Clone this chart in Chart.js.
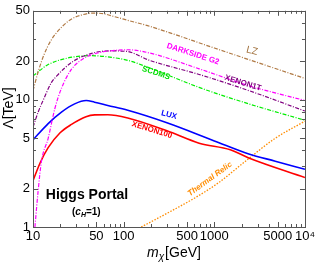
<!DOCTYPE html>
<html>
<head>
<meta charset="utf-8">
<script src="https://cdn.jsdelivr.net/npm/chart.js@4.4.1/dist/chart.umd.min.js"></script>
<style>
  html, body { margin: 0; padding: 0; background: #fff; }
  canvas { display: block; }
</style>
</head>
<body>
<canvas id="higgs-portal" width="317" height="264"></canvas>
<script>
// --data (m in GeV, Lambda in TeV)
var lzMass = [10, 11.5, 13.2, 15.8, 20, 27, 35, 45, 60, 80, 111, 193, 1000, 10000];
var lzLambda = [11.8, 16.9, 22.5, 29.3, 36.3, 43.4, 46.5, 48, 47.4, 44.9, 42.1, 37.8, 25.5, 14.7];

var darksideMass = [10.5, 11.4, 12.4, 14.7, 17.4, 20.6, 26.5, 37, 56, 79, 111, 193, 680, 2400, 10000];
var darksideLambda = [1.0, 1.93, 3.29, 4.98, 8.5, 12.3, 17.3, 21.3, 23.6, 24.4, 24.7, 23.3, 17.5, 12.9, 9.86];

var xenon1tMass = [10, 11.4, 13.1, 16, 18.3, 27.9, 46, 70, 107, 193, 680, 2400, 10000];
var xenon1tLambda = [6.1, 8.0, 10.1, 13.7, 15.4, 20.1, 23.3, 24.2, 24.0, 20.4, 15.8, 11.8, 8.15];

var scdmsMass = [10, 14.7, 24.4, 44, 67, 111, 193, 680, 2400, 10000];
var scdmsLambda = [15.4, 18.9, 21.3, 22.2, 21.7, 20.4, 17.8, 12.5, 9.28, 6.9];

var luxMass = [10, 14.7, 20.6, 28.8, 38.6, 47.7, 66.8, 111, 300, 1000, 2400, 4700, 10000];
var luxLambda = [4.84, 6.5, 8.0, 9.28, 9.86, 9.57, 9.02, 8.26, 6.59, 4.75, 3.75, 3.29, 2.84];

var xenon100Mass = [10, 12, 14.7, 19.9, 26.6, 38.4, 48, 66.8, 111, 300, 680, 1500, 2400, 10000];
var xenon100Lambda = [2.31, 3.2, 4.2, 5.5, 6.4, 7.35, 7.6, 7.63, 7.19, 5.7, 4.56, 4.05, 3.49, 2.45];

var relicMass = [156, 319, 625, 1125, 2207, 4700, 10000];
var relicLambda = [1.0, 1.31, 1.71, 2.24, 3.29, 4.98, 6.79];

var xTickLabels = [10, 50, 100, 500, 1000, 5000, 10000];
var xMinorTicks = [20, 30, 40, 60, 70, 80, 90, 200, 300, 400, 600, 700, 800, 900, 2000, 3000, 4000, 6000, 7000, 8000, 9000];
var yTickLabels = [1, 2, 5, 10, 20, 50];
var yMinorTicks = [3, 4, 6, 7, 8, 9, 30, 40];

function pts(xs, ys) {
  return xs.map(function(v, i) { return {x: v, y: ys[i]}; });
}

function line(label, xs, ys, color, dash, width) {
  return {
    label: label,
    data: pts(xs, ys),
    borderColor: color,
    borderWidth: width,
    borderDash: dash,
    pointRadius: 0,
    cubicInterpolationMode: 'monotone',
    fill: false
  };
}

var FONT = '"Liberation Sans", Arial, sans-serif';

function text(ctx, str, x, y, angle, color, font) {
  ctx.save();
  ctx.translate(x, y);
  ctx.rotate(angle * Math.PI / 180);
  ctx.fillStyle = color;
  ctx.font = font;
  ctx.textAlign = 'center';
  ctx.textBaseline = 'middle';
  ctx.fillText(str, 0, 0);
  ctx.restore();
}

// frame, inner ticks on all sides, titles and curve labels
var decorations = {
  id: 'decorations',
  afterDraw: function(chart) {
    var ctx = chart.ctx, a = chart.chartArea;
    var xs = chart.scales.x, ys = chart.scales.y;
    ctx.save();
    ctx.strokeStyle = '#555';
    ctx.lineWidth = 1;
    ctx.strokeRect(Math.round(a.left) + 0.5, Math.round(a.top) + 0.5, Math.round(a.right - a.left), Math.round(a.bottom - a.top));

    ctx.beginPath();
    function xt(v, len) {
      var p = Math.round(xs.getPixelForValue(v)) + 0.5;
      ctx.moveTo(p, a.bottom); ctx.lineTo(p, a.bottom - len);
      ctx.moveTo(p, a.top); ctx.lineTo(p, a.top + len);
    }
    function yt(v, len) {
      var p = Math.round(ys.getPixelForValue(v)) + 0.5;
      ctx.moveTo(a.left, p); ctx.lineTo(a.left + len, p);
      ctx.moveTo(a.right, p); ctx.lineTo(a.right - len, p);
    }
    xTickLabels.forEach(function(v) { xt(v, 5); });
    xMinorTicks.forEach(function(v) { xt(v, 3); });
    yTickLabels.forEach(function(v) { yt(v, 5); });
    yMinorTicks.forEach(function(v) { yt(v, 3); });
    ctx.stroke();

    // y title
    ctx.save();
    ctx.translate(9, 108);
    ctx.rotate(-Math.PI / 2);
    ctx.fillStyle = '#000';
    ctx.font = '14px ' + FONT;
    ctx.textAlign = 'center';
    ctx.textBaseline = 'middle';
    ctx.fillText('\u039b[TeV]', 0, 0);
    ctx.restore();

    // x title: m_chi[GeV]
    ctx.fillStyle = '#000';
    ctx.textBaseline = 'alphabetic';
    ctx.textAlign = 'left';
    var tx = 147, ty = 257;
    ctx.font = 'italic 14px ' + FONT;
    ctx.fillText('m', tx, ty);
    tx += ctx.measureText('m').width;
    ctx.font = 'italic 10px ' + FONT;
    ctx.fillText('\u03c7', tx, ty + 3);
    tx += ctx.measureText('\u03c7').width + 1;
    ctx.font = '14px ' + FONT;
    ctx.fillText('[GeV]', tx, ty);

    // panel title
    ctx.textAlign = 'center';
    ctx.font = 'bold 14px ' + FONT;
    ctx.fillText('Higgs Portal', 87, 199);
    // (c_H=1)
    ctx.textAlign = 'left';
    var cx = 72, cy = 215;
    ctx.font = 'bold 10px ' + FONT;
    ctx.fillText('(', cx, cy); cx += ctx.measureText('(').width;
    ctx.font = 'bold italic 10px ' + FONT;
    ctx.fillText('c', cx, cy); cx += ctx.measureText('c').width;
    ctx.font = 'bold italic 7px ' + FONT;
    ctx.fillText('H', cx, cy + 2); cx += ctx.measureText('H').width;
    ctx.font = 'bold 10px ' + FONT;
    ctx.fillText('=1)', cx, cy);

    // curve labels
    text(ctx, 'LZ', 252, 51, 14, '#a0703c', '10px ' + FONT);
    text(ctx, 'DARKSIDE G2', 193, 54, 18, '#ff00ff', 'bold 8px ' + FONT);
    text(ctx, 'XENON1T', 243, 83, 17, '#800080', 'bold 8px ' + FONT);
    text(ctx, 'SCDMS', 156, 73, 18, '#00dd00', 'bold 8px ' + FONT);
    text(ctx, 'LUX', 169, 115, 15, '#0000ff', 'bold 8px ' + FONT);
    text(ctx, 'XENON100', 152, 130, 17, '#ff0000', 'bold 8px ' + FONT);
    text(ctx, 'Thermal Relic', 210, 179, -36, '#ff8c00', 'bold italic 8px ' + FONT);
    ctx.restore();
  }
};

new Chart(document.getElementById('higgs-portal'), {
  type: 'line',
  data: {
    datasets: [
      line('LZ', lzMass, lzLambda, '#b07a45', [4, 1.5, 1, 1.5], 1.2),
      line('DARKSIDE G2', darksideMass, darksideLambda, '#ff00ff', [4, 1.5, 1, 1.5], 1.2),
      line('XENON1T', xenon1tMass, xenon1tLambda, '#800080', [4, 1.5, 1, 1.5], 1.2),
      line('SCDMS', scdmsMass, scdmsLambda, '#00ee00', [4, 1.5, 1, 1.5], 1.2),
      line('LUX', luxMass, luxLambda, '#0000ff', [], 1.6),
      line('XENON100', xenon100Mass, xenon100Lambda, '#ff0000', [], 1.6),
      line('Thermal Relic', relicMass, relicLambda, '#ff8c00', [1.5, 1.5], 1.3)
    ]
  },
  options: {
    responsive: false,
    animation: false,
    devicePixelRatio: 1,
    layout: { padding: { left: 0, right: 10, top: 7, bottom: 0 } },
    plugins: { legend: { display: false }, tooltip: { enabled: false } },
    scales: {
      x: {
        type: 'logarithmic',
        min: 10,
        max: 10000,
        grid: { display: false, drawTicks: false },
        border: { display: false },
        afterBuildTicks: function(scale) {
          scale.ticks = xTickLabels.map(function(v) { return {value: v}; });
        },
        afterFit: function(scale) { scale.height = 37; },
        ticks: {
          autoSkip: false,
          maxRotation: 0,
          padding: 2,
          color: '#000',
          font: { family: FONT, size: 13 },
          callback: function(v) { return v === 10000 ? '10\u2074' : String(v); }
        }
      },
      y: {
        type: 'logarithmic',
        min: 1,
        max: 50,
        grid: { display: false, drawTicks: false },
        border: { display: false },
        afterBuildTicks: function(scale) {
          scale.ticks = yTickLabels.map(function(v) { return {value: v}; });
        },
        afterFit: function(scale) { scale.width = 33; },
        ticks: {
          autoSkip: false,
          padding: 3,
          color: '#000',
          font: { family: FONT, size: 13 },
          callback: function(v) { return String(v); }
        }
      }
    }
  },
  plugins: [decorations]
});
</script>
</body>
</html>
